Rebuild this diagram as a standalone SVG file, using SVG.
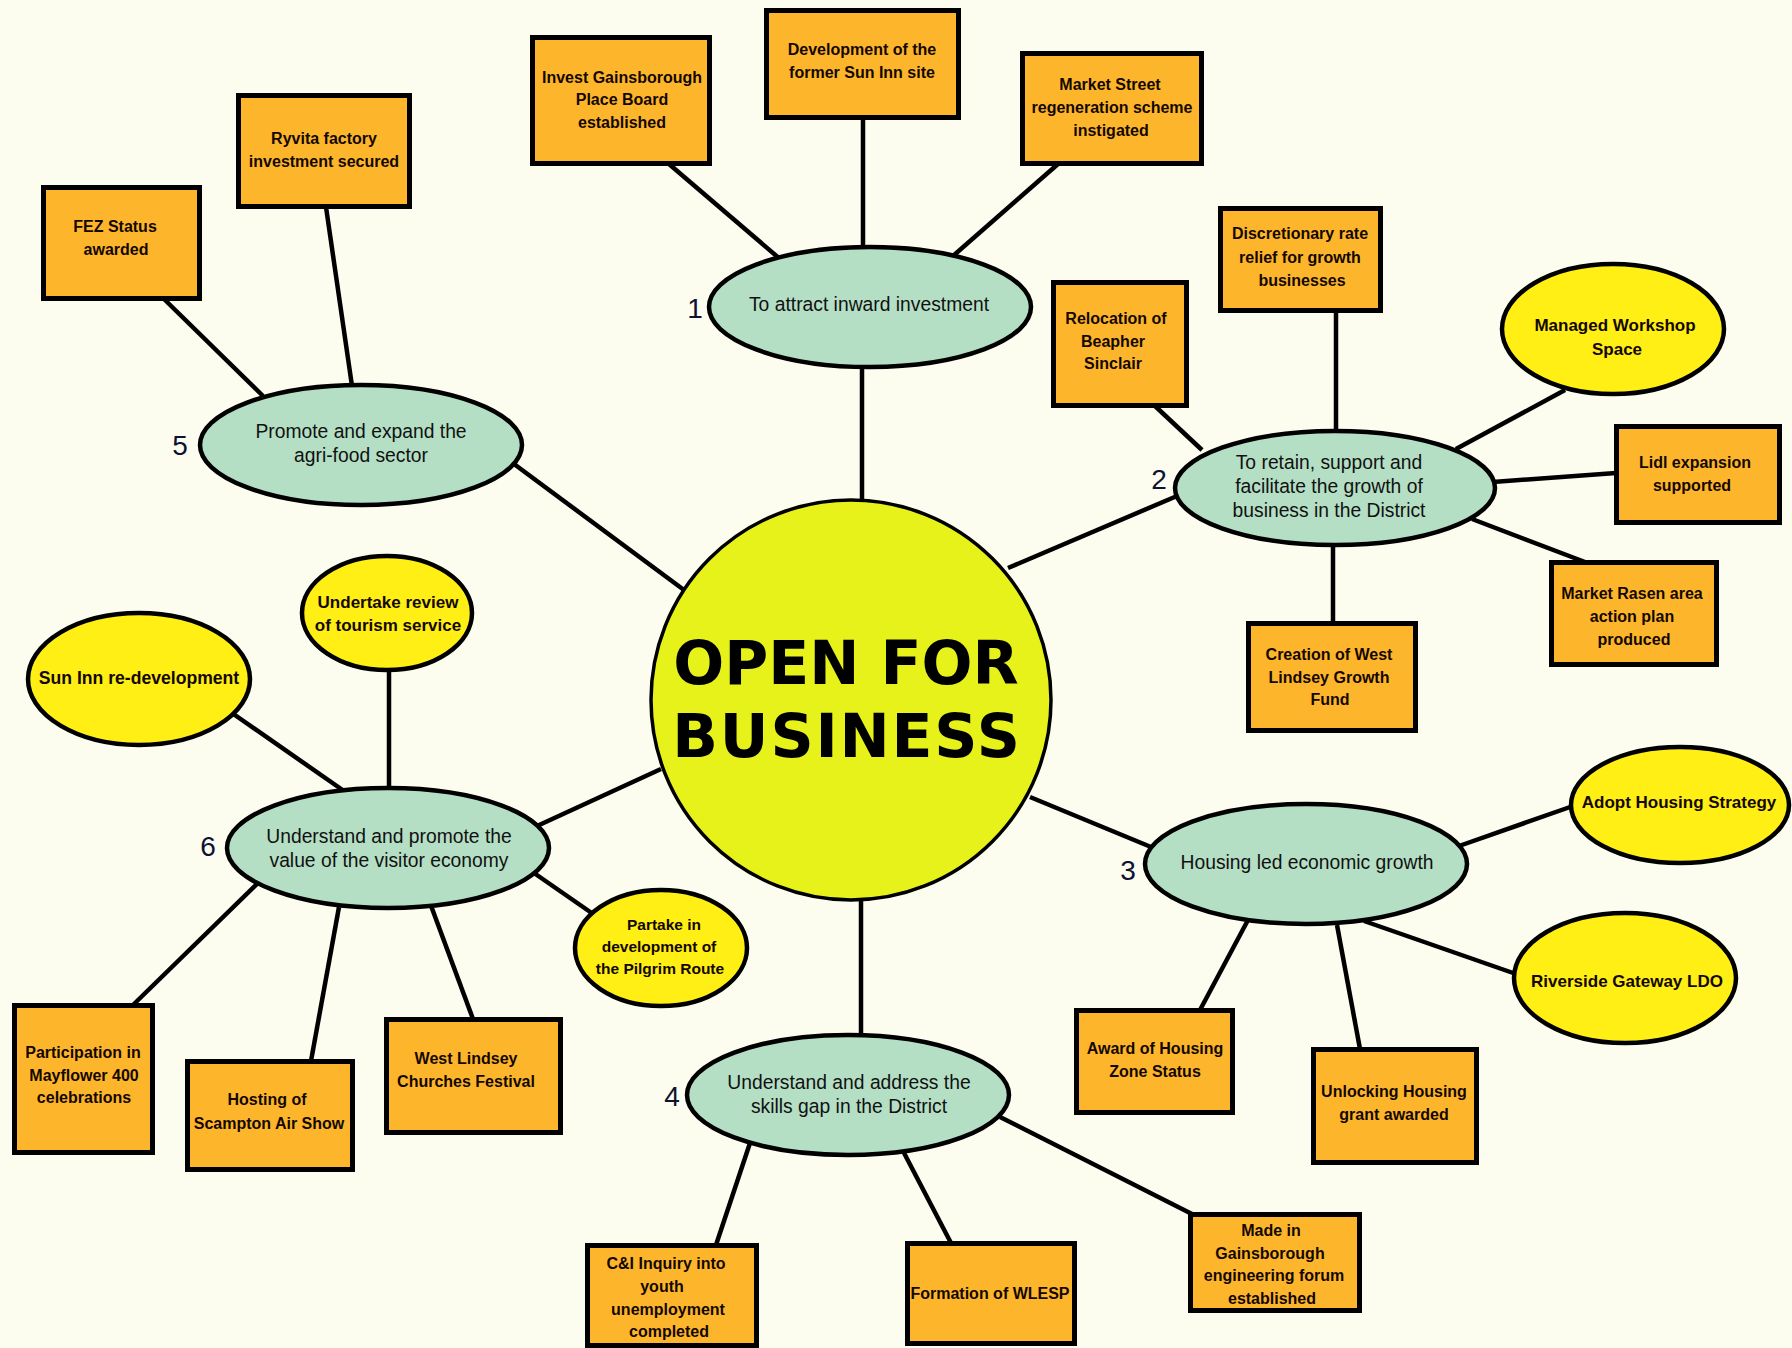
<svg xmlns="http://www.w3.org/2000/svg" width="1792" height="1348" viewBox="0 0 1792 1348">
<style>
.bg{fill:#fcfdef}
.box{fill:#fdb62b;stroke:#000;stroke-width:5}
.teal{fill:#b4dfc5;stroke:#000;stroke-width:4.5}
.yel{fill:#ffef14;stroke:#000;stroke-width:4.5}
.hub{fill:#e6f219;stroke:#000;stroke-width:3.5}
.ln{stroke:#000;stroke-width:4.5;fill:none}
.bt{font-family:"Liberation Sans",Arial,sans-serif;font-size:16px;font-weight:bold;fill:#140800;text-anchor:middle}
.tt{font-family:"Liberation Sans",Arial,sans-serif;font-size:19.3px;fill:#111;text-anchor:middle}
.yt{font-family:"Liberation Sans",Arial,sans-serif;font-size:17px;font-weight:bold;fill:#140800;text-anchor:middle}
.num{font-family:"Liberation Sans",Arial,sans-serif;font-size:28px;fill:#0d1233;text-anchor:middle}
.big{font-family:"DejaVu Sans",Verdana,sans-serif;font-size:60px;font-weight:bold;fill:#000;text-anchor:middle}
</style>
<rect class="bg" x="0" y="0" width="1792" height="1348"/>
<g id="connectors">
<line class="ln" x1="862" y1="365" x2="862" y2="502"/>
<line class="ln" x1="1008" y1="568" x2="1177" y2="496"/>
<line class="ln" x1="1030" y1="797" x2="1151" y2="847"/>
<line class="ln" x1="861" y1="898" x2="861" y2="1036"/>
<line class="ln" x1="514" y1="464" x2="684" y2="590"/>
<line class="ln" x1="661" y1="769" x2="537" y2="826"/>
<line class="ln" x1="669" y1="164" x2="780" y2="259"/>
<line class="ln" x1="863" y1="118" x2="863" y2="248"/>
<line class="ln" x1="1058" y1="164" x2="953" y2="256"/>
<line class="ln" x1="1155" y1="406" x2="1202" y2="450"/>
<line class="ln" x1="1336" y1="311" x2="1336" y2="432"/>
<line class="ln" x1="1565" y1="390" x2="1456" y2="449"/>
<line class="ln" x1="1493" y1="482" x2="1616" y2="473"/>
<line class="ln" x1="1472" y1="519" x2="1585" y2="562"/>
<line class="ln" x1="1333" y1="544" x2="1333" y2="623"/>
<line class="ln" x1="1459" y1="846" x2="1573" y2="806"/>
<line class="ln" x1="1364" y1="921" x2="1516" y2="974"/>
<line class="ln" x1="1248" y1="920" x2="1200" y2="1010"/>
<line class="ln" x1="1337" y1="925" x2="1360" y2="1049"/>
<line class="ln" x1="750" y1="1143" x2="716" y2="1245"/>
<line class="ln" x1="903" y1="1151" x2="951" y2="1243"/>
<line class="ln" x1="1000" y1="1117" x2="1192" y2="1214"/>
<line class="ln" x1="164" y1="299" x2="263" y2="396"/>
<line class="ln" x1="326" y1="207" x2="352" y2="386"/>
<line class="ln" x1="232" y1="713" x2="344" y2="791"/>
<line class="ln" x1="389" y1="668" x2="389" y2="789"/>
<line class="ln" x1="534" y1="873" x2="596" y2="916"/>
<line class="ln" x1="258" y1="883" x2="133" y2="1005"/>
<line class="ln" x1="339" y1="907" x2="311" y2="1061"/>
<line class="ln" x1="430" y1="903" x2="473" y2="1019"/>
</g>

<g id="hub">
<circle class="hub" cx="851" cy="700" r="200"/>
<text class="big" x="846" y="684">OPEN FOR</text>
<text class="big" x="847" y="757" style="letter-spacing:1.8px">BUSINESS</text>
</g>

<g id="goal1">
<ellipse class="teal" cx="870" cy="307" rx="161" ry="60"/>
<text class="tt" x="869" y="311">To attract inward investment</text>
<text class="num" x="695" y="318">1</text>
</g>
<g id="goal2">
<ellipse class="teal" cx="1335" cy="488" rx="160" ry="57"/>
<text class="tt" x="1329" y="469">To retain, support and</text>
<text class="tt" x="1329" y="493">facilitate the growth of</text>
<text class="tt" x="1329" y="517">business in the District</text>
<text class="num" x="1159" y="489">2</text>
</g>
<g id="goal3">
<ellipse class="teal" cx="1306" cy="864" rx="161" ry="60"/>
<text class="tt" x="1307" y="869">Housing led economic growth</text>
<text class="num" x="1128" y="880">3</text>
</g>
<g id="goal4">
<ellipse class="teal" cx="848" cy="1095" rx="161" ry="60"/>
<text class="tt" x="849" y="1089">Understand and address the</text>
<text class="tt" x="849" y="1113">skills gap in the District</text>
<text class="num" x="672" y="1106">4</text>
</g>
<g id="goal5">
<ellipse class="teal" cx="361" cy="445" rx="161" ry="60"/>
<text class="tt" x="361" y="438">Promote and expand the</text>
<text class="tt" x="361" y="462">agri-food sector</text>
<text class="num" x="180" y="455">5</text>
</g>
<g id="goal6">
<ellipse class="teal" cx="388" cy="848" rx="161" ry="60"/>
<text class="tt" x="389" y="843">Understand and promote the</text>
<text class="tt" x="389" y="867">value of the visitor economy</text>
<text class="num" x="208" y="856">6</text>
</g>

<g id="invest-gainsborough">
<rect class="box" x="532.5" y="37.5" width="177" height="126"/>
<text class="bt" x="622" y="83">Invest Gainsborough</text>
<text class="bt" x="622" y="105">Place Board</text>
<text class="bt" x="622" y="128">established</text>
</g>
<g id="sun-inn-site">
<rect class="box" x="766.5" y="10.5" width="192" height="107"/>
<text class="bt" x="862" y="55">Development of the</text>
<text class="bt" x="862" y="78">former Sun Inn site</text>
</g>
<g id="market-street">
<rect class="box" x="1022.5" y="53.5" width="179" height="110"/>
<text class="bt" x="1110" y="90">Market Street</text>
<text class="bt" x="1112" y="113">regeneration scheme</text>
<text class="bt" x="1111" y="136">instigated</text>
</g>
<g id="ryvita">
<rect class="box" x="238.5" y="95.5" width="171" height="111"/>
<text class="bt" x="324" y="144">Ryvita factory</text>
<text class="bt" x="324" y="167">investment secured</text>
</g>
<g id="fez">
<rect class="box" x="43.5" y="187.5" width="156" height="111"/>
<text class="bt" x="115" y="232">FEZ Status</text>
<text class="bt" x="116" y="255">awarded</text>
</g>
<g id="discretionary">
<rect class="box" x="1220.5" y="208.5" width="160" height="102"/>
<text class="bt" x="1300" y="239">Discretionary rate</text>
<text class="bt" x="1300" y="263">relief for growth</text>
<text class="bt" x="1302" y="286">businesses</text>
</g>
<g id="relocation">
<rect class="box" x="1053.5" y="282.5" width="133" height="123"/>
<text class="bt" x="1116" y="324">Relocation of</text>
<text class="bt" x="1113" y="347">Beapher</text>
<text class="bt" x="1113" y="369">Sinclair</text>
</g>
<g id="lidl">
<rect class="box" x="1616.5" y="426.5" width="163" height="96"/>
<text class="bt" x="1695" y="468">Lidl expansion</text>
<text class="bt" x="1692" y="491">supported</text>
</g>
<g id="market-rasen">
<rect class="box" x="1551.5" y="562.5" width="165" height="102"/>
<text class="bt" x="1632" y="599">Market Rasen area</text>
<text class="bt" x="1632" y="622">action plan</text>
<text class="bt" x="1634" y="645">produced</text>
</g>
<g id="growth-fund">
<rect class="box" x="1248.5" y="623.5" width="167" height="107"/>
<text class="bt" x="1329" y="660">Creation of West</text>
<text class="bt" x="1329" y="683">Lindsey Growth</text>
<text class="bt" x="1330" y="705">Fund</text>
</g>
<g id="managed-workshop">
<ellipse class="yel" cx="1613" cy="329" rx="111" ry="65"/>
<text class="yt" x="1615" y="331">Managed Workshop</text>
<text class="yt" x="1617" y="355">Space</text>
</g>
<g id="adopt-housing">
<ellipse class="yel" cx="1680" cy="805" rx="109" ry="58"/>
<text class="yt" x="1679" y="808">Adopt Housing Strategy</text>
</g>
<g id="riverside">
<ellipse class="yel" cx="1625" cy="978" rx="111" ry="65"/>
<text class="yt" x="1627" y="987">Riverside Gateway LDO</text>
</g>
<g id="award-housing-zone">
<rect class="box" x="1076.5" y="1010.5" width="156" height="102"/>
<text class="bt" x="1155" y="1054">Award of Housing</text>
<text class="bt" x="1155" y="1077">Zone Status</text>
</g>
<g id="unlocking-housing">
<rect class="box" x="1313.5" y="1049.5" width="163" height="113"/>
<text class="bt" x="1394" y="1097">Unlocking Housing</text>
<text class="bt" x="1394" y="1120">grant awarded</text>
</g>
<g id="made-in-gainsborough">
<rect class="box" x="1190.5" y="1214.5" width="169" height="96"/>
<text class="bt" x="1271" y="1236">Made in</text>
<text class="bt" x="1270" y="1259">Gainsborough</text>
<text class="bt" x="1274" y="1281">engineering forum</text>
<text class="bt" x="1272" y="1304">established</text>
</g>
<g id="wlesp">
<rect class="box" x="907.5" y="1243.5" width="167" height="100"/>
<text class="bt" x="990" y="1299">Formation of WLESP</text>
</g>
<g id="ci-inquiry">
<rect class="box" x="587.5" y="1245.5" width="169" height="100"/>
<text class="bt" x="666" y="1269">C&amp;I Inquiry into</text>
<text class="bt" x="662" y="1292">youth</text>
<text class="bt" x="668" y="1315">unemployment</text>
<text class="bt" x="669" y="1337">completed</text>
</g>
<g id="churches-festival">
<rect class="box" x="386.5" y="1019.5" width="174" height="113"/>
<text class="bt" x="466" y="1064">West Lindsey</text>
<text class="bt" x="466" y="1087">Churches Festival</text>
</g>
<g id="scampton">
<rect class="box" x="187.5" y="1061.5" width="165" height="108"/>
<text class="bt" x="267" y="1105">Hosting of</text>
<text class="bt" x="269" y="1129">Scampton Air Show</text>
</g>
<g id="mayflower">
<rect class="box" x="14.5" y="1005.5" width="138" height="147"/>
<text class="bt" x="83" y="1058">Participation in</text>
<text class="bt" x="84" y="1081">Mayflower 400</text>
<text class="bt" x="84" y="1103">celebrations</text>
</g>
<g id="sun-inn-redevelopment">
<ellipse class="yel" cx="139" cy="679" rx="111" ry="66"/>
<text class="yt" x="139" y="684" style="font-size:17.6px">Sun Inn re-development</text>
</g>
<g id="tourism-review">
<ellipse class="yel" cx="387" cy="613" rx="85" ry="57"/>
<text class="yt" x="388" y="608">Undertake review</text>
<text class="yt" x="388" y="631">of tourism service</text>
</g>
<g id="pilgrim-route">
<ellipse class="yel" cx="661" cy="948" rx="86" ry="58"/>
<text class="yt" x="664" y="930" style="font-size:15.5px">Partake in</text>
<text class="yt" x="659" y="952" style="font-size:15.5px">development of</text>
<text class="yt" x="660" y="974" style="font-size:15.5px">the Pilgrim Route</text>
</g>
</svg>
